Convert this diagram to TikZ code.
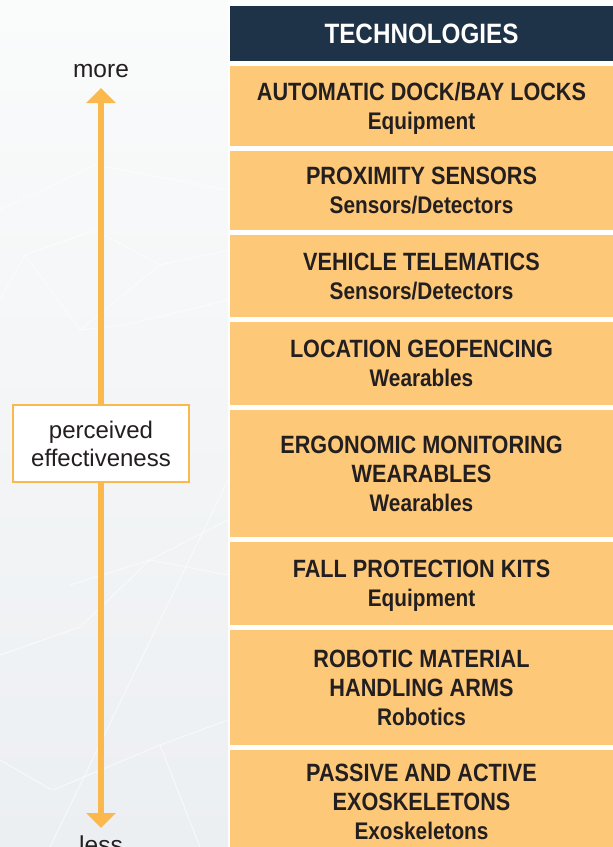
\documentclass[tikz,border=0pt]{standalone}
\usepackage{fontspec}
\setmainfont{Liberation Sans}
\newfontfamily\techfont{Liberation Sans}[FakeStretch=0.866]
\usetikzlibrary{arrows.meta}

\definecolor{navy}{RGB}{30,50,72}
\definecolor{techorange}{RGB}{253,200,120}
\definecolor{arroworange}{RGB}{251,184,76}
\definecolor{inkdark}{RGB}{35,31,32}
\definecolor{bgtop}{RGB}{250,251,251}
\definecolor{bgbot}{RGB}{236,239,242}

\newcommand{\techsub}[1]{{\fontsize{24}{29}\selectfont #1}}

\tikzset{every picture/.style={line width=0.75pt}}
\tikzset{
  techbox/.style={fill=techorange, text=inkdark, minimum width=383pt, inner sep=0pt, align=center,
    text depth=0pt, font=\techfont\bfseries\fontsize{25}{29}\selectfont},
  headbox/.style={fill=navy, text=white, minimum width=383pt, minimum height=55pt, inner sep=0pt,
    font=\techfont\bfseries\fontsize{28}{32}\selectfont},
  sidetext/.style={text=inkdark, inner sep=0pt, font=\fontsize{24.5}{28}\selectfont},
  percbox/.style={draw=arroworange, line width=2pt, fill=white, text=inkdark, minimum width=176pt,
    minimum height=77pt, inner sep=0pt, align=center, font=\fontsize{24}{28}\selectfont},
  effarrow/.style={draw=arroworange, line width=5.5pt, -{Triangle[width=29pt,length=15pt]}},
  meshline/.style={draw=white, line width=1pt, opacity=0.55}
}

\begin{document}
\begin{tikzpicture}[x=1pt,y=1pt,yscale=-1,xscale=1]
\path[use as bounding box] (0,0) rectangle (613,847);
\clip (0,0) rectangle (613,847);

%Background
\fill[white] (0,0) rectangle (613,847);
\shade[top color=bgtop, bottom color=bgbot] (0,0) rectangle (228,847);
%faint mesh
\draw[meshline] (0,210) -- (95,165) -- (228,190);
\draw[meshline] (0,300) -- (25,255) -- (95,230) -- (160,265) -- (228,250);
\draw[meshline] (25,255) -- (80,330) -- (160,265);
\draw[meshline] (80,330) -- (125,325) -- (228,300);
\draw[meshline] (0,655) -- (80,627) -- (150,560) -- (228,520);
\draw[meshline] (70,585) -- (150,560) -- (228,575);
\draw[meshline] (53,790) -- (160,745) -- (228,720);
\draw[meshline] (50,847) -- (228,480);
\draw[meshline] (160,745) -- (200,847);
\draw[meshline] (52,790) -- (0,760);

%Column
\node[headbox] (head) at (421.5,33.5) {TECHNOLOGIES};
\node[techbox, minimum height=80pt] (b1) at (421.5,106) {AUTOMATIC DOCK/BAY LOCKS\\ \techsub{Equipment}};
\node[techbox, minimum height=79pt] (b2) at (421.5,190.5) {PROXIMITY SENSORS\\ \techsub{Sensors/Detectors}};
\node[techbox, minimum height=82pt] (b3) at (421.5,276) {VEHICLE TELEMATICS\\ \techsub{Sensors/Detectors}};
\node[techbox, minimum height=83pt] (b4) at (421.5,363.5) {LOCATION GEOFENCING\\ \techsub{Wearables}};
\node[techbox, minimum height=127pt] (b5) at (421.5,473.5) {ERGONOMIC MONITORING\\ WEARABLES\\ \techsub{Wearables}};
\node[techbox, minimum height=83pt] (b6) at (421.5,583.5) {FALL PROTECTION KITS\\ \techsub{Equipment}};
\node[techbox, minimum height=115pt] (b7) at (421.5,687.5) {ROBOTIC MATERIAL\\ HANDLING ARMS\\ \techsub{Robotics}};
\node[techbox, minimum height=104pt] (b8) at (421.5,802) {PASSIVE AND ACTIVE\\ EXOSKELETONS\\ \techsub{Exoskeletons}};

%Scale
\node[percbox] (perc) at (101,443.5) {perceived\\ effectiveness};
\node[sidetext, anchor=base] (more) at (101,77) {more};
\node[sidetext, anchor=base] (less) at (101,853) {less};
\coordinate (moretip) at (101,88);
\coordinate (lesstip) at (101,828);
\draw[effarrow] (perc.north) -- (moretip);
\draw[effarrow] (perc.south) -- (lesstip);

\end{tikzpicture}
\end{document}
